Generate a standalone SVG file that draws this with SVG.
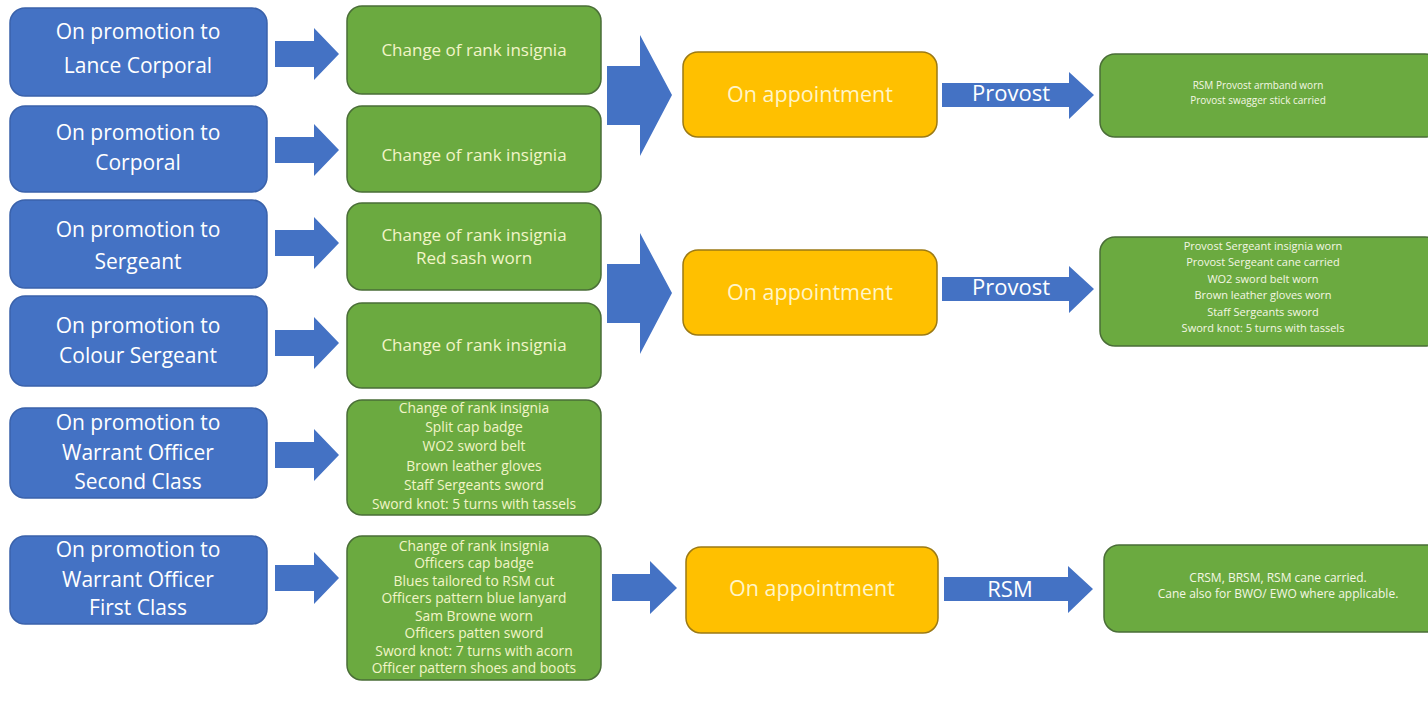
<svg xmlns="http://www.w3.org/2000/svg" width="1428" height="704" viewBox="0 0 1428 704">
<style>
.bg{fill:#ffffff}
.blue{fill:#4472C4;stroke:#3A62AB;stroke-width:1.5}
.green{fill:#6BAA40;stroke:#4A6E37;stroke-width:1.5}
.orange{fill:#FFC000;stroke:#9C7A14;stroke-width:1.5}
.arrow{fill:#4472C4}
text{font-family:"Open Sans","Noto Sans","Liberation Sans",sans-serif;text-anchor:middle}
.tb{fill:#ffffff;font-size:21px}
.tg{fill:#F2F5C8;font-size:17px}
.ts{fill:#F2F5C8;font-size:13.8px}
.tr{fill:#F4F7E4;font-size:11px}
.tr1{fill:#F4F7E4;font-size:10px}
.tr3{fill:#F4F7E4;font-size:12px}
.to{fill:#FFF5C8;font-size:21.5px}
.tl{fill:#ffffff;font-size:22px}
</style>
<rect class="bg" x="0" y="0" width="1428" height="704"/>

<g id="connectors">
  <polygon class="arrow" points="275,41 314,41 314,28 339,54 314,80 314,67 275,67"/>
  <polygon class="arrow" points="275,137 314,137 314,124 339,150 314,176 314,163 275,163"/>
  <polygon class="arrow" points="275,230 314,230 314,217 339,243 314,269 314,256 275,256"/>
  <polygon class="arrow" points="275,330 314,330 314,317 339,343 314,369 314,356 275,356"/>
  <polygon class="arrow" points="275,442 314,442 314,429 339,455 314,481 314,468 275,468"/>
  <polygon class="arrow" points="275,565 314,565 314,552 339,578 314,604 314,591 275,591"/>
  <polygon class="arrow" points="607,66 640,66 640,35 672,95 640,156 640,125 607,125"/>
  <polygon class="arrow" points="607,264 640,264 640,233 672,293 640,354 640,323 607,323"/>
  <polygon class="arrow" points="612,574 650,574 650,561 677,588 650,614 650,601 612,601"/>
  <polygon class="arrow" points="942,83 1069,83 1069,72 1094,95 1069,119 1069,107 942,107"/>
  <text class="tl" x="1011" y="101">Provost</text>
  <polygon class="arrow" points="942,277 1069,277 1069,266 1094,289 1069,313 1069,301 942,301"/>
  <text class="tl" x="1011" y="295">Provost</text>
  <polygon class="arrow" points="944,577 1068,577 1068,566 1093,589 1068,613 1068,601 944,601"/>
  <text class="tl" x="1010" y="597">RSM</text>
</g>

<g id="promo-lcpl"><rect class="blue" x="10" y="8" width="257" height="88" rx="15"/>
  <text class="tb" x="138" y="39">On promotion to</text><text class="tb" x="138" y="73">Lance Corporal</text></g>
<g id="promo-cpl"><rect class="blue" x="10" y="106" width="257" height="86" rx="15"/>
  <text class="tb" x="138" y="140">On promotion to</text><text class="tb" x="138" y="170">Corporal</text></g>
<g id="promo-sgt"><rect class="blue" x="10" y="200" width="257" height="88" rx="15"/>
  <text class="tb" x="138" y="237">On promotion to</text><text class="tb" x="138" y="269">Sergeant</text></g>
<g id="promo-csgt"><rect class="blue" x="10" y="296" width="257" height="90" rx="15"/>
  <text class="tb" x="138" y="333">On promotion to</text><text class="tb" x="138" y="363">Colour Sergeant</text></g>
<g id="promo-wo2"><rect class="blue" x="10" y="408" width="257" height="90" rx="15"/>
  <text class="tb" x="138" y="430">On promotion to</text><text class="tb" x="138" y="460">Warrant Officer</text><text class="tb" x="138" y="489">Second Class</text></g>
<g id="promo-wo1"><rect class="blue" x="10" y="536" width="257" height="88" rx="15"/>
  <text class="tb" x="138" y="557">On promotion to</text><text class="tb" x="138" y="587">Warrant Officer</text><text class="tb" x="138" y="615">First Class</text></g>

<g id="change-lcpl"><rect class="green" x="347" y="6" width="254" height="88" rx="15"/>
  <text class="tg" x="474" y="56">Change of rank insignia</text></g>
<g id="change-cpl"><rect class="green" x="347" y="106" width="254" height="86" rx="15"/>
  <text class="tg" x="474" y="161">Change of rank insignia</text></g>
<g id="change-sgt"><rect class="green" x="347" y="203" width="254" height="87" rx="15"/>
  <text class="tg" x="474" y="241">Change of rank insignia</text><text class="tg" x="474" y="264">Red sash worn</text></g>
<g id="change-csgt"><rect class="green" x="347" y="303" width="254" height="85" rx="15"/>
  <text class="tg" x="474" y="351">Change of rank insignia</text></g>
<g id="change-wo2"><rect class="green" x="347" y="400" width="254" height="115" rx="15"/>
  <text class="ts" x="474" y="413">Change of rank insignia</text>
  <text class="ts" x="474" y="432">Split cap badge</text>
  <text class="ts" x="474" y="451">WO2 sword belt</text>
  <text class="ts" x="474" y="471">Brown leather gloves</text>
  <text class="ts" x="474" y="490">Staff Sergeants sword</text>
  <text class="ts" x="474" y="509">Sword knot: 5 turns with tassels</text></g>
<g id="change-wo1"><rect class="green" x="347" y="536" width="254" height="144" rx="15"/>
  <text class="ts" x="474" y="551">Change of rank insignia</text>
  <text class="ts" x="474" y="568">Officers cap badge</text>
  <text class="ts" x="474" y="586">Blues tailored to RSM cut</text>
  <text class="ts" x="474" y="603">Officers pattern blue lanyard</text>
  <text class="ts" x="474" y="621">Sam Browne worn</text>
  <text class="ts" x="474" y="638">Officers patten sword</text>
  <text class="ts" x="474" y="656">Sword knot: 7 turns with acorn</text>
  <text class="ts" x="474" y="673">Officer pattern shoes and boots</text></g>

<g id="appoint-1"><rect class="orange" x="683" y="52" width="254" height="85" rx="15"/>
  <text class="to" x="810" y="102">On appointment</text></g>
<g id="appoint-2"><rect class="orange" x="683" y="250" width="254" height="85" rx="15"/>
  <text class="to" x="810" y="300">On appointment</text></g>
<g id="appoint-3"><rect class="orange" x="686" y="547" width="252" height="86" rx="15"/>
  <text class="to" x="812" y="596">On appointment</text></g>

<g id="provost-rsm"><rect class="green" x="1100" y="54" width="340" height="83" rx="15"/>
  <text class="tr1" x="1258" y="89">RSM Provost armband worn</text>
  <text class="tr1" x="1258" y="104">Provost swagger stick carried</text></g>
<g id="provost-sgt"><rect class="green" x="1100" y="237" width="340" height="109" rx="15"/>
  <text class="tr" x="1263" y="250">Provost Sergeant insignia worn</text>
  <text class="tr" x="1263" y="266">Provost Sergeant cane carried</text>
  <text class="tr" x="1263" y="283">WO2 sword belt worn</text>
  <text class="tr" x="1263" y="299">Brown leather gloves worn</text>
  <text class="tr" x="1263" y="316">Staff Sergeants sword</text>
  <text class="tr" x="1263" y="332">Sword knot: 5 turns with tassels</text></g>
<g id="rsm-cane"><rect class="green" x="1104" y="545" width="340" height="87" rx="15"/>
  <text class="tr3" x="1278" y="582">CRSM, BRSM, RSM cane carried.</text>
  <text class="tr3" x="1278" y="598">Cane also for BWO/ EWO where applicable.</text></g>
</svg>
